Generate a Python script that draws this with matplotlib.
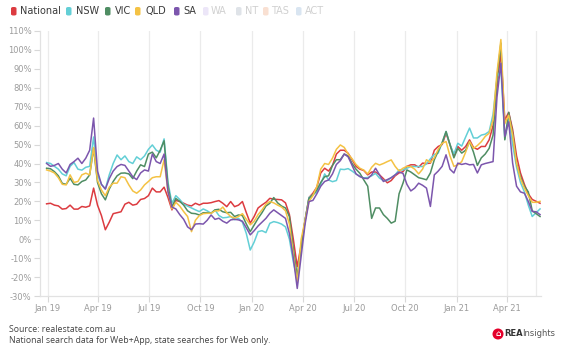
import matplotlib
matplotlib.use('Agg')
import matplotlib.pyplot as plt
from matplotlib.patches import FancyBboxPatch, Ellipse
import pandas as pd

# weekly series, % change in searches
dates = pd.date_range('2018-12-30', periods=127, freq='7D')

national = [18.7, 19, 18, 17.6, 15.9, 16.2, 18, 15.9, 15.9, 17.3,
            16.9, 17.6, 27, 18, 12.5, 5, 9, 13.5, 14, 14.5,
            18.5, 19.5, 18, 18.5, 21, 21.5, 23, 27, 25, 25,
            27.5, 22, 15.5, 20.5, 19.9, 19, 18, 17.6, 19, 18.1,
            19, 19, 19.3, 19.9, 20.4, 19, 17.2, 19.9, 17.2, 18,
            19.9, 14, 8.5, 12, 16.5, 18.1, 19.5, 21.6, 21.1, 21,
            20.8, 19.2, 13, 0, -14.5, -3, 10, 22, 24.3, 27.5,
            35, 37.5, 36, 39, 45, 47, 47, 45.4, 42, 38.5,
            37, 36.3, 34, 35.5, 35.5, 34, 32, 29.8, 31, 33.5,
            35, 35.7, 38.5, 39.3, 39.3, 38, 40.2, 40, 40.2, 47,
            49, 50, 56, 50, 44, 49, 47, 49, 52.5, 48.5,
            47.5, 49, 49, 52.5, 60, 80, 99, 63, 67, 58,
            44, 35, 29, 24, 21, 20, 19]

nsw = [40.5, 40, 38.5, 37, 34.5, 33.5, 38.5, 40.5, 37, 36.5,
       38, 38.5, 54, 34, 29, 26.5, 34, 40, 44.5, 42,
       44, 41, 40, 43.5, 42, 44, 47.5, 49.8, 47, 46,
       53, 30, 19, 23, 21, 18.5, 17.5, 16.5, 15.5, 14.6,
       16, 15, 13.7, 15.5, 12.5, 11.3, 11.5, 12, 10.3, 11,
       9, 3, -5.7, -1.5, 4, 4.5, 3.5, 8.4, 9.3, 8.8,
       8, 6.5, 0, -12, -21, -5, 10, 22, 23.5, 25,
       29, 34.5, 31.3, 30.4, 31, 37, 36.8, 37.3, 36, 34.5,
       33.1, 32.4, 32.6, 33.5, 34.8, 32.3, 31, 31, 32.5, 34,
       36.6, 36.6, 37.5, 38.4, 38.4, 38.4, 38.4, 39.8, 42.5, 44.8,
       45.5, 51, 56.9, 50, 45, 50.7, 49.2, 54, 58.7, 53.5,
       53.5, 55, 55.5, 56.9, 66, 85, 90, 53, 64, 50,
       38, 30, 25, 18, 12, 14, 16]

vic = [37.5, 37.2, 35.7, 33.5, 29.5, 29, 32.2, 29, 28.7, 30.5,
       31.3, 34, 48, 30, 24, 20.8, 26.5, 30.5, 33.5, 34.9,
       35, 34.5, 32, 36, 39.3, 38.4, 45, 46, 43, 47,
       52, 28, 17, 21.5, 20, 18, 15, 13.7, 13.5, 12.8,
       14, 14, 13.7, 15.5, 15.8, 14.5, 14, 14.2, 12, 12.8,
       12.5, 8, 4, 7.5, 11, 14, 17.5, 19, 22, 19.2,
       17.5, 16.5, 12, -5, -19.7, -4, 10, 21.6, 23.4, 26,
       30, 33, 33.5, 39, 42, 42, 45, 44, 40, 37,
       34.8, 31.3, 28, 11, 16.5, 16.5, 13, 11, 8.5, 9.5,
       24, 29.6, 36.6, 35.5, 34, 32.5, 32, 31.4, 35, 42,
       46.5, 51, 56.9, 50, 43, 48, 45.5, 47, 51.6, 46,
       39, 43, 45, 48, 55, 85, 103.6, 52.5, 67, 56,
       40, 33, 28, 25, 15, 13.5, 12]

qld = [36.6, 36, 35, 32.5, 29, 28.7, 34, 30, 30.5, 34,
       34.9, 34, 48.5, 31, 26, 23, 27.5, 29.6, 29.6, 33,
       32.5, 28.7, 25.5, 24.3, 26, 28.7, 30.5, 32.5, 33, 33,
       42, 25, 16, 19.5, 17.5, 14.6, 12, 4, 10, 12.5,
       13.5, 13.7, 13.7, 15, 15, 17, 14, 12, 11.1, 12,
       13.5, 10.5, 7.6, 9.5, 13, 15.5, 18.5, 19.9, 19.2, 18,
       17, 15, 8, -8, -23, 0, 10, 20, 23, 27.8,
       37, 40, 39.5, 42.8, 47.5, 49.8, 48.5, 45, 42.5, 39.5,
       37.5, 36.5, 34.5, 38, 40.1, 39.2, 40, 41, 41.9, 38.5,
       36, 37.5, 38.5, 38.4, 37, 34.5, 37, 42, 40.5, 43,
       47.5, 50.7, 51.6, 44, 38.5, 39.3, 41, 46, 51.6, 48,
       49.5, 51.5, 54.3, 56, 63, 88, 105.5, 61, 65.5, 55,
       40, 32, 27, 23, 19.5, 19.5, 20]

sa = [40, 38.5, 39, 40, 37, 35, 39.5, 41, 42.8, 40,
      42.8, 47, 64, 36, 29, 26.5, 32, 36, 38.4, 39.5,
      39, 36, 33, 31.5, 35, 36.6, 36, 45, 41, 40,
      45, 25, 17, 16, 13, 10.5, 6.5, 5, 8, 8.2,
      8, 10, 12.8, 10.5, 11.1, 9.5, 8.5, 10.2, 10.5, 10.2,
      9.5, 6, 2.3, 4.5, 7, 9, 11, 13.7, 15.5, 14,
      12.5, 11, 3, -10, -26, -9, 8, 19.9, 20.5, 24,
      28, 30.5, 31.3, 34.5, 39.5, 41.5, 45, 43.5, 39, 34.5,
      33.1, 32.2, 32, 34, 37.5, 34, 30.5, 31.5, 32.5, 34,
      35.5, 34.8, 29, 25.5, 27, 29.6, 28.5, 27, 17.3, 34,
      36, 38.5, 44.6, 37, 35, 40.2, 39.5, 40, 39.3, 39.5,
      35, 39.3, 40, 40.5, 41, 75, 93, 54.3, 62, 40.2,
      28, 25, 24.3, 20, 14.7, 14.5, 13]

series_names = ['National', 'NSW', 'VIC', 'QLD', 'SA']
hidden_names = ['WA', 'NT', 'TAS', 'ACT']
colors = ['#dc3b40', '#63cfd6', '#4f8d63', '#f4c244', '#7c56ad']
hidden_colors = ['#ece6f8', '#dfe3e8', '#f9e0d2', '#d9e5f1']

tick_dates = pd.date_range('2019-01-01', '2021-04-01', freq='QS')
tick_labels = [d.strftime('%b %y') for d in tick_dates]

fig = plt.figure(figsize=(5.68, 3.52), dpi=100)
ax = fig.add_axes([40 / 568, 56 / 352, 501 / 568, 265 / 352])

for vals, col in zip([national, nsw, vic, qld, sa], colors):
    ax.plot(dates, vals, color=col, lw=1.1, solid_joinstyle='round')

start = pd.Timestamp('2019-01-01')
ax.set_xlim(start - pd.Timedelta(days=13.8), start + pd.Timedelta(days=881.7))
ax.set_ylim(-30, 110)
ax.set_yticks(range(-30, 111, 10))
ax.set_yticklabels([f'{v}%' for v in range(-30, 111, 10)])
ax.set_xticks(tick_dates)
ax.set_xticklabels(tick_labels)

for d in tick_dates:
    ax.axvline(d, color='#ebebeb', lw=0.9, zorder=0)
ax.axvline(pd.Timestamp('2021-05-23'), color='#ebebeb', lw=0.9, zorder=0)

for s in ['top', 'right']:
    ax.spines[s].set_visible(False)
for s in ['left', 'bottom']:
    ax.spines[s].set_color('#e2e2e2')
    ax.spines[s].set_linewidth(0.9)
ax.tick_params(axis='both', colors='#d8d8d8', labelcolor='#9b9b9b',
               labelsize=6, length=4, width=0.8, pad=2)

# legend row
fw, fh = 568, 352
legend_pos = [(11, 20), (66, 76), (105, 115), (135, 146), (174, 183),
              (203, 211), (236, 245), (263, 271), (296, 305)]
names = series_names + hidden_names
cols = colors + hidden_colors
for (mx, tx), name, col in zip(legend_pos, names, cols):
    fig.patches.append(FancyBboxPatch((mx / fw, 1 - 15.5 / fh), 5.5 / fw, 8.5 / fh,
                                      boxstyle='round,pad=0,rounding_size=0.004',
                                      transform=fig.transFigure, fc=col, ec='none'))
    tcol = '#3a3a3a' if name in series_names else '#d0d0d0'
    fig.text(tx / fw, 1 - 11.3 / fh, name, fontsize=7, color=tcol, va='center', ha='left')

fig.text(9 / fw, 1 - 329.5 / fh, 'Source: realestate.com.au', fontsize=6.3,
         family='Open Sans', color='#444444', va='center', ha='left')
fig.text(9 / fw, 1 - 340.5 / fh, 'National search data for Web+App, state searches for Web only.',
         fontsize=6.3, family='Open Sans', color='#444444', va='center', ha='left')

# REA Insights mark
fig.patches.append(Ellipse((498 / fw, 1 - 334 / fh), 11 / fw, 11 / fh,
                           transform=fig.transFigure, fc='#e4002b', ec='none'))
fig.text(498 / fw, 1 - 334 / fh, '\u2302', fontsize=5.5, color='white',
         ha='center', va='center', fontweight='bold')
fig.text(504 / fw, 1 - 334 / fh, 'REA', fontsize=6, color='#333333',
         fontweight='bold', ha='left', va='center')
fig.text(522 / fw, 1 - 334 / fh, 'Insights', fontsize=6, color='#555555',
         ha='left', va='center')

fig.savefig('out.png', dpi=100)
